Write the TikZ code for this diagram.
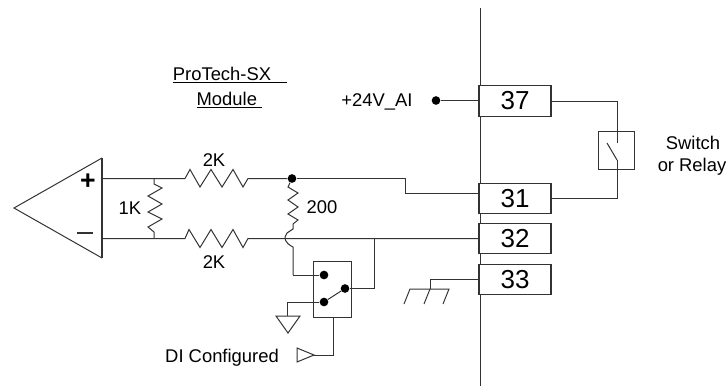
\documentclass[tikz,border=0pt]{standalone}
\usepackage{fontspec}
\setmainfont{Liberation Sans}
\usetikzlibrary{positioning}
\tikzset{
    wire/.style={draw=black!80, line width=0.75pt},
    termbox/.style={draw=black!80, line width=0.9pt, minimum width=54pt, minimum height=23pt, inner sep=0pt, font=\fontsize{19.5}{20}\selectfont},
    lbl/.style={font=\fontsize{13.8}{15}\selectfont, inner sep=0pt},
    junction/.style={circle, fill=black, inner sep=0pt, minimum size=6.5pt}
}
\begin{document}
\begin{tikzpicture}[x=0.75pt,y=-0.75pt]
\useasboundingbox (0,0) rectangle (727,389);
% module boundary
\coordinate (T) at (480,8);
\coordinate (U) at (480,386);
\draw[wire] (T) -- (U);
% terminals
\node[termbox,fill=white] (T37) at (515,101) {37};
\node[termbox,fill=white] (T31) at (515,198.5) {31};
\node[termbox,fill=white] (T32) at (515,238.5) {32};
\node[termbox,fill=white] (T33) at (515,279.5) {33};
\node[junction] (P24) at (436,100.5) {};
\node[lbl] (L24) at (377,102) {+24V\_AI};
\draw[wire] (P24) -- (P24 -| T37.west);
\node[lbl] (Lmod) at (230,75) {\underline{ProTech-SX\hspace{12pt}}};
\node[lbl] (Lmod2) at (229.5,100) {\underline{Module\hspace{4pt}}};
% switch or relay
\node[draw=black!80, line width=0.75pt, minimum width=27pt, minimum height=28.5pt, inner sep=0pt] (SW) at (616,150) {};
\coordinate (SWa) at (617,143);
\coordinate (SWb) at (617,160);
\coordinate (SWc) at (607,143);
\draw[wire] (T37.east) -| (SWa);
\draw[wire] (T31.east) -| (SWb);
\draw[wire] (SWb) -- (SWc);
\node[lbl] (Lsw) at (693,143) {Switch};
\node[lbl] (Lrel) at (692,167) {or Relay};
% amplifier
\coordinate (Atip) at (14,208);
\coordinate (Atop) at (102,158);
\coordinate (Abot) at (102,258);
\draw[wire] (Atop) -- (Atip) -- (Abot);
\draw[draw=black!80, line width=1.1pt] (Atop) -- (Abot);
\node[font=\fontsize{20}{20}\selectfont\bfseries, inner sep=0pt] (Lp) at (88,182) {+};
\coordinate (Ma) at (77,233);
\coordinate (Mb) at (93,233);
\draw[black!80, line width=0.9pt] (Ma) -- (Mb);
% input wires and 2K resistors
\coordinate (Ap) at (102,178.5);
\coordinate (Am) at (102,238.5);
\node[junction] (J1) at (292,178.5) {};
\draw[wire] (Ap) -- (185,178.5) -- (190,169.5) -- (200,187) -- (211,169.5) -- (222,187) -- (233,169.5) -- (243,187) -- (248,178.5) -- (J1);
\draw[wire] (J1) -- (405,178.5) -- (405,193.5) -- (T31.west |- 0,193.5);
\draw[wire] (Am) -- (185,238.5) -- (189,229.5) -- (200,247.5) -- (211,229.5) -- (222,247.5) -- (233,229.5) -- (243,247.5) -- (248,238.5) -- (T32.west);
\node[lbl] (L2Ka) at (214,160) {2K};
\node[lbl] (L2Kb) at (214,262) {2K};
% 1K resistor
\draw[wire] (154,178.5) -- (154,184) -- (162,188) -- (148,196) -- (162,204) -- (148,212) -- (162,219) -- (148,227) -- (154,232) -- (154,238.5);
\node[lbl] (L1K) at (130,208) {1K};
% 200 resistor with hop
\draw[wire] (J1) -- (288,187) -- (298,193) -- (288,200) -- (298,207) -- (288,214) -- (298,220) -- (293,224) -- (293,229) -- (287,233) .. controls (283,238) and (285,243) .. (293,247) -- (293,275);
\node[lbl] (L200) at (322,207) {200};
% DI relay
\node[draw=black!80, line width=0.75pt, minimum width=29pt, minimum height=42pt, inner sep=0pt] (DI) at (332.5,289) {};
\node[junction] (Ca) at (324,275) {};
\node[junction] (Cb) at (345,288.5) {};
\node[junction] (Cc) at (324,302) {};
\draw[wire] (293,275) -- (Ca);
\draw[wire] (Cb) -- (Cc);
\draw[wire] (Cb) -- (374,288.5) -- (374,238.5);
% signal ground
\coordinate (Ga) at (276,316);
\coordinate (Gb) at (300,316);
\coordinate (Gc) at (288,333);
\draw[wire] (Ga) -- (Gb) -- (Gc) -- cycle;
\draw[wire] (Cc) -| (287.5,316);
% DI input
\coordinate (Da) at (297,348);
\coordinate (Db) at (297,362);
\coordinate (Dc) at (314,355);
\draw[wire] (Da) -- (Dc) -- (Db) -- cycle;
\draw[wire] (Dc) -| (DI.south -| 333,0);
\node[lbl] (LDI) at (222,358) {DI Configured};
% chassis ground
\coordinate (Ea) at (430,289);
\draw[wire] (T33.west) -| (Ea);
\draw[wire] (404,304) -- (410,289) -- (449,289) -- (443,304);
\draw[wire] (424,304) -- (Ea);
\end{tikzpicture}
\end{document}
